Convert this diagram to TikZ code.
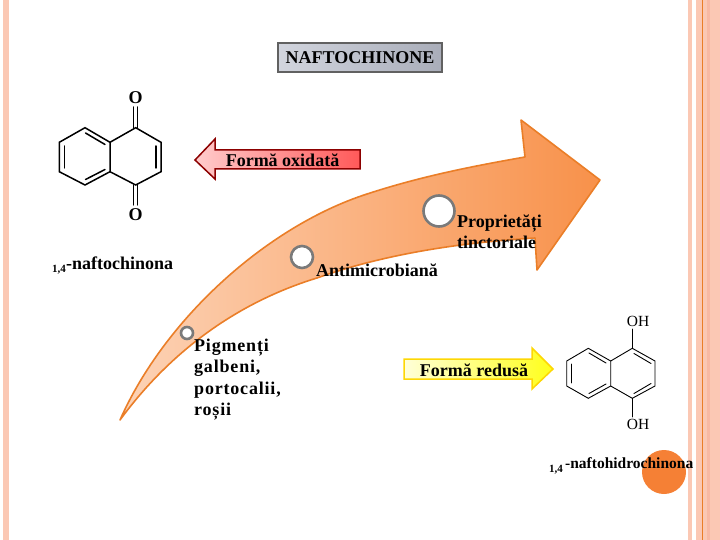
\documentclass[tikz,border=0pt]{standalone}
\usepackage{fontspec}
\setmainfont{Liberation Serif}
\definecolor{stripe}{HTML}{FBC8B4}
\definecolor{stripedark}{HTML}{F8B9A4}
\definecolor{bigarrow}{HTML}{F8914A}
\definecolor{bigedge}{HTML}{EA7E28}
\definecolor{dotorange}{HTML}{F58035}
\definecolor{titlelight}{HTML}{D2D5DE}
\definecolor{titledark}{HTML}{A9ADB9}
\tikzset{
  label text/.style={font=\bfseries\fontsize{18}{21}\selectfont,inner sep=0pt,align=left,anchor=north west},
  wide text/.style={font=\bfseries\fontsize{18}{21.3}\selectfont\addfontfeature{LetterSpace=4.5},inner sep=0pt,align=left,anchor=north west},
  arrow text/.style={font=\bfseries\fontsize{18}{20}\selectfont,inner sep=0pt},
  chem text/.style={font=\bfseries\fontsize{18}{20}\selectfont,inner sep=0pt,anchor=base west},
  chem small/.style={font=\bfseries\fontsize{15.5}{18}\selectfont,inner sep=0pt,anchor=base west},
  small digits/.style={font=\bfseries\fontsize{11}{12}\selectfont,inner sep=0pt,anchor=base west},
  bond/.style={line width=1.5pt,line cap=round},
  thin bond/.style={line width=0.9pt,line cap=round},
  ring dot/.style={circle,draw=black!52,line width=2.6pt,fill=white,inner sep=0pt},
}
\begin{document}
\begin{tikzpicture}[x=1pt,y=-1pt]
    \useasboundingbox (0,0) rectangle (720,540);

    % page stripes
    \fill [stripe] (3,0) rectangle (9,540);
    \fill [stripe] (688,0) rectangle (692,540);
    \fill [stripe] (696,0) rectangle (710,540);
    \fill [stripedark] (707,0) rectangle (710,540);
    \fill [stripe] (710,0) rectangle (720,540);
    \draw [bigedge,line width=0.8pt] (702.5,0) -- (702.5,540);

    % title
    \node (title) [draw=black!62,line width=1.4pt,left color=titlelight,right color=titledark,
      minimum width=164pt,minimum height=29pt,inner sep=0pt,
      font=\bfseries\fontsize{18}{20}\selectfont] at (360,57.5) {NAFTOCHINONE};

    % big curved arrow
    \draw [bigedge,line width=1.6pt,left color=bigarrow!40,right color=bigarrow,line join=round]
      (120,420) .. controls (165,318) and (268,226) .. (367,194)
      .. controls (425,175) and (480,165) .. (525,157)
      -- (521,120) -- (600,180) -- (537,270) -- (535,238)
      .. controls (470,242) and (390,252) .. (317,278)
      .. controls (245,300) and (175,345) .. (120,420) -- cycle;

    \node (dotc) [ring dot,minimum size=31pt] at (439,211) {};
    \node (dotb) [ring dot,minimum size=22pt] at (302,257) {};
    \node (dota) [ring dot,minimum size=12pt] at (187,333) {};

    \node (prop) [label text] at (457,215) {Proprietăți\\tinctoriale};
    \node (anti) [label text] at (316,264) {Antimicrobiană};
    \node (pigm) [wide text] at (194,339) {Pigmenți\\galbeni,\\portocalii,\\roșii};

    % oxidised form arrow
    \draw [draw=red!55!black,line width=1.5pt,left color=red!20,right color=red!65!white,line join=miter]
      (195,160) -- (215,139) -- (215,150) -- (360,150) -- (360,169) -- (215,169) -- (215,179) -- cycle;
    \node (oxi) [arrow text] at (282.5,160) {Formă oxidată};

    % reduced form arrow
    \draw [draw=yellow!75!orange,line width=1.5pt,left color=yellow!15,right color=yellow!90,line join=miter]
      (404,359) -- (532,359) -- (532,348) -- (553,369) -- (532,389) -- (532,379) -- (404,379) -- cycle;
    \node (red) [arrow text] at (474,370) {Formă redusă};

    % 1,4-naftochinona
    \draw [bond] (135.7,127.7) -- (161,142.3) -- (161,171.7) -- (135.7,185) -- (110,171.7) -- (110,142.3) -- cycle;
    \draw [bond] (110,142.3) -- (85,127.7) -- (59.3,142.3) -- (59.3,171.7) -- (85,185) -- (110,171.7);
    \draw [bond] (156,146) -- (156,168);
    \draw [bond] (64.3,146) -- (64.3,168);
    \draw [bond] (85.5,133) -- (105,144.5);
    \draw [bond] (85.5,179.5) -- (105,169.5);
    \draw [bond] (133.7,127.7) -- (133.7,107);
    \draw [bond] (137.7,127.7) -- (137.7,107);
    \draw [bond] (133.7,185) -- (133.7,205);
    \draw [bond] (137.7,185) -- (137.7,205);
    \node (otop) [inner sep=0pt,font=\bfseries\fontsize{18}{20}\selectfont] at (135.7,97.5) {O};
    \node (obot) [inner sep=0pt,font=\bfseries\fontsize{18}{20}\selectfont] at (135.7,214.5) {O};
    \node (digq) [small digits] at (52,272.5) {1,4};
    \node (nameq) [chem text] at (66,269) {-naftochinona};

    % 1,4-naftohidrochinona
    \draw [thin bond] (632.3,348.3) -- (655,361) -- (655,386) -- (632.3,398.3) -- (610.7,386) -- (610.7,361) -- cycle;
    \draw [thin bond] (610.7,361) -- (588.3,348.3) -- (566.7,361) -- (566.7,386) -- (588.3,398.3) -- (610.7,386);
    \draw [thin bond] (571,364) -- (571,383);
    \draw [thin bond] (589,353) -- (606,363);
    \draw [thin bond] (589,393.5) -- (606,384);
    \draw [thin bond] (634,353.5) -- (651,363.5);
    \draw [thin bond] (634,393.5) -- (651,383.5);
    \draw [thin bond] (632.3,348.3) -- (632.3,329);
    \draw [thin bond] (632.3,398.3) -- (632.3,417);
    \node (ohtop) [inner sep=0pt,font=\fontsize{15.5}{18}\selectfont] at (638,321.7) {OH};
    \node (ohbot) [inner sep=0pt,font=\fontsize{15.5}{18}\selectfont] at (638,424) {OH};

    \fill [dotorange] (664,472) circle (22);
    \node (digh) [small digits] at (549,472) {1,4};
    \node (nameh) [chem small] at (565,468.5) {-naftohidrochinona};
\end{tikzpicture}
\end{document}
